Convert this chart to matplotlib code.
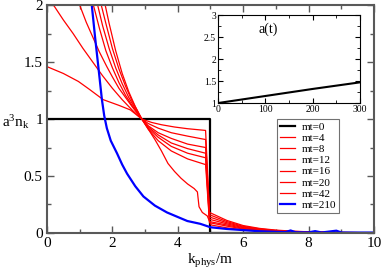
import matplotlib
matplotlib.use("Agg")
import matplotlib.pyplot as plt

plt.rcParams["font.family"] = ["Liberation Serif", "DejaVu Serif"]
plt.rcParams["mathtext.fontset"] = "custom"
plt.rcParams["mathtext.rm"] = "Liberation Serif"
plt.rcParams["mathtext.it"] = "Liberation Serif"

# occupation numbers
k_mt0 = [0, 5.0, 5.0, 10]
n_mt0 = [1, 1, 0, 0]

# mt=4: flat on the left, falls early on the right
k_mt4 = [0, 0.5, 0.96, 1.3, 1.72, 2.2, 2.55, 2.9, 3.1, 3.3, 3.5, 3.7, 3.9, 4.1, 4.3, 4.5, 4.6,
         4.65, 4.75, 4.9, 5.02, 5.5, 6.0, 6.5, 7.0, 7.5, 8.0, 9.0, 10.0]
n_mt4 = [1.46, 1.40, 1.33, 1.26, 1.17, 1.12, 1.08, 1.0, 0.91, 0.82, 0.72, 0.61, 0.54, 0.48, 0.43,
         0.39, 0.36, 0.23, 0.18, 0.15, 0.07, 0.045, 0.028, 0.018, 0.011, 0.007, 0.004, 0.002, 0.001]

k_tail = [4.97, 5.5, 6.0, 6.5, 7.0, 7.5, 8.0, 9.0, 10.0]

k_mt8 = [0, 0.2, 0.5, 0.8, 1.1, 1.4, 1.7, 2.0, 2.3, 2.6, 2.9, 3.2, 3.5, 3.9, 4.3, 4.85] + k_tail
n_mt8 = [2.12, 2.0, 1.87, 1.75, 1.62, 1.50, 1.38, 1.27, 1.17, 1.08, 1.0, 0.97, 0.95, 0.93, 0.915, 0.90,
         0.18, 0.11, 0.065, 0.04, 0.025, 0.016, 0.01, 0.004, 0.002]

k_mt12 = [0.95, 1.0, 1.2, 1.4, 1.6, 1.83, 2.0, 2.2, 2.4, 2.6, 2.9, 3.1, 3.4, 3.8, 4.3, 4.85] + k_tail
n_mt12 = [2.05, 2.0, 1.85, 1.72, 1.59, 1.46, 1.37, 1.27, 1.19, 1.11, 1.0, 0.96, 0.92, 0.88, 0.85, 0.82,
          0.16, 0.10, 0.058, 0.036, 0.022, 0.014, 0.009, 0.004, 0.002]

k_mt16 = [1.38, 1.42, 1.6, 1.8, 2.0, 2.2, 2.4, 2.6, 2.9, 3.1, 3.4, 3.8, 4.3, 4.85] + k_tail
n_mt16 = [2.05, 2.0, 1.80, 1.60, 1.45, 1.32, 1.21, 1.12, 1.0, 0.94, 0.88, 0.83, 0.78, 0.75,
          0.14, 0.09, 0.052, 0.032, 0.02, 0.012, 0.008, 0.003, 0.002]

k_mt20 = [1.52, 1.55, 1.7, 1.9, 2.1, 2.3, 2.5, 2.7, 2.9, 3.1, 3.4, 3.8, 4.3, 4.85] + k_tail
n_mt20 = [2.04, 2.0, 1.82, 1.62, 1.45, 1.31, 1.19, 1.09, 1.0, 0.93, 0.86, 0.79, 0.74, 0.70,
          0.12, 0.08, 0.046, 0.028, 0.017, 0.011, 0.007, 0.003, 0.001]

k_mt30 = [1.63, 1.66, 1.8, 2.0, 2.2, 2.4, 2.6, 2.75, 2.9, 3.1, 3.4, 3.8, 4.3, 4.85] + k_tail
n_mt30 = [2.04, 2.0, 1.84, 1.62, 1.44, 1.29, 1.16, 1.08, 1.0, 0.92, 0.84, 0.76, 0.70, 0.66,
          0.10, 0.07, 0.04, 0.025, 0.015, 0.01, 0.006, 0.003, 0.001]

k_mt42 = [1.75, 1.78, 1.9, 2.1, 2.3, 2.5, 2.7, 2.9, 3.1, 3.4, 3.8, 4.3, 4.85] + k_tail
n_mt42 = [2.04, 2.0, 1.84, 1.60, 1.40, 1.24, 1.11, 1.0, 0.91, 0.81, 0.72, 0.65, 0.60,
          0.09, 0.06, 0.035, 0.022, 0.013, 0.008, 0.005, 0.002, 0.001]

k_mt210 = [1.30, 1.37, 1.47, 1.57, 1.68, 1.75, 1.83, 1.95, 2.14, 2.3, 2.45, 2.7, 2.95, 3.3, 3.67,
           4.0, 4.29, 4.69, 5.0, 5.5, 6.0, 6.5, 7.0, 7.3, 7.45, 7.6, 8.0, 8.2, 8.4, 8.85, 9.0,
           9.5, 10.0]
n_mt210 = [2.15, 2.0, 1.72, 1.46, 1.17, 1.03, 0.92, 0.81, 0.70, 0.60, 0.52, 0.41, 0.32, 0.24, 0.18,
           0.14, 0.105, 0.08, 0.05, 0.035, 0.025, 0.015, 0.01, 0.008, 0.022, 0.006, 0.005, 0.016,
           0.004, 0.02, 0.004, 0.003, 0.003]

# scale factor (inset)
t_a = [0, 100, 200, 300]
a_t = [1.0, 1.16, 1.32, 1.47]

red_curves = [
    (k_mt4, n_mt4, "mt=4"),
    (k_mt8, n_mt8, "mt=8"),
    (k_mt12, n_mt12, "mt=12"),
    (k_mt16, n_mt16, "mt=16"),
    (k_mt20, n_mt20, "mt=20"),
    (k_mt30, n_mt30, None),
    (k_mt42, n_mt42, "mt=42"),
]

fig = plt.figure(figsize=(3.82, 2.69), dpi=100)
ax = fig.add_axes([0.123, 0.134, 0.856, 0.847])

ax.plot(k_mt0, n_mt0, color="black", lw=1.6, label="mt=0")
for kk, nn, lab in red_curves:
    ax.plot(kk, nn, color="red", lw=0.9, label=lab if lab else "_nolegend_")
ax.plot(k_mt210, n_mt210, color="blue", lw=1.6, label="mt=210")

ax.set_xlim(0, 10)
ax.set_ylim(0, 2)
ax.set_xticks([0, 2, 4, 6, 8, 10])
ax.set_xticks([1, 3, 5, 7, 9], minor=True)
ax.set_yticks([0, 0.5, 1, 1.5, 2])
ax.set_yticklabels(["0", "0.5", "1", "1.5", "2"])
ax.set_yticks([0.25, 0.75, 1.25, 1.75], minor=True)
ax.tick_params(which="both", direction="in", top=True, right=True, labelsize=11, pad=3,
               color="0.35")
ax.tick_params(which="major", length=5, width=1)
ax.tick_params(which="minor", length=3, width=1)
for s in ax.spines.values():
    s.set_color("0.35")
    s.set_linewidth(1.5)

ax.set_xlabel(r"$\mathregular{k_{phys}/m}$", fontsize=11, labelpad=1)
fig.text(0.005, 0.545, r"$\mathregular{a^3n_k}$", fontsize=11, va="center", ha="left")

leg = ax.legend(loc="upper left", bbox_to_anchor=(0.725, 0.558), bbox_transform=fig.transFigure,
                fontsize=8, frameon=True, fancybox=False, handlelength=1.3, handletextpad=0.6,
                labelspacing=0.12, borderpad=0.3, borderaxespad=0)
leg.get_frame().set_edgecolor("0.3")
leg.get_frame().set_linewidth(0.8)

ins = fig.add_axes([0.571, 0.617, 0.371, 0.327])
ins.plot(t_a, a_t, color="black", lw=1.5)
ins.set_xlim(0, 300)
ins.set_ylim(1, 3)
ins.set_xticks([0, 100, 200, 300])
ins.set_xticks([50, 150, 250], minor=True)
ins.set_yticks([1, 1.5, 2, 2.5, 3])
ins.set_yticklabels(["1", "1.5", "2", "2.5", "3"])
ins.set_yticks([1.25, 1.75, 2.25, 2.75], minor=True)
ins.tick_params(which="both", direction="in", top=True, right=True, labelsize=7, pad=1.5)
ins.tick_params(which="major", length=3.5)
ins.tick_params(which="minor", length=2)
ins.text(85, 2.6, "a(t)", fontsize=10)

fig.savefig("out.png", dpi=100)
